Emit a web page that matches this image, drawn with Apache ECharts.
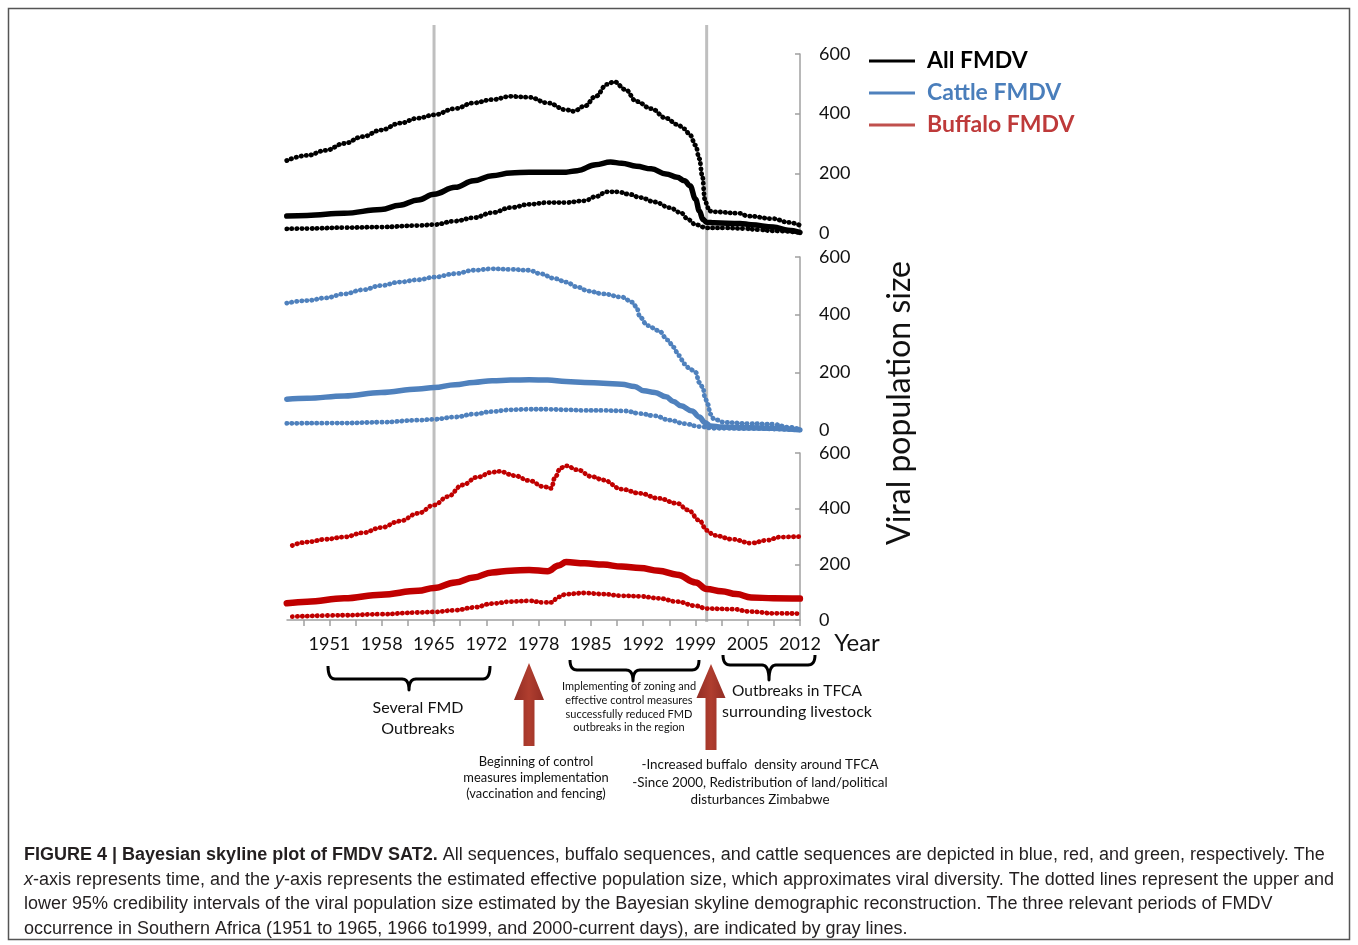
<!DOCTYPE html>
<html><head><meta charset="utf-8">
<script src="https://cdn.jsdelivr.net/npm/echarts@6/dist/echarts.min.js"></script>
<style>html,body{margin:0;padding:0;background:#fff}#c{width:1358px;height:945px}</style>
</head><body><div id="c"></div>
<script>
// ---------- DATA (year, viral population size) ----------
const allUpper = [[1945.47,243],[1948.11,260],[1950.51,277],[1952.91,300],[1955.30,323],[1957.70,345],[1960.10,368],[1962.50,385],[1964.56,396],[1967.29,417],[1969.69,436],[1972.09,447],[1974.49,458],[1976.89,455],[1979.28,436],[1981.68,413],[1982.64,408],[1984.08,425],[1985.52,458],[1986.96,498],[1987.92,507],[1989.36,481],[1990.80,441],[1992.71,417],[1994.63,385],[1996.07,364],[1997.03,349],[1997.75,328],[1998.47,294],[1998.95,249],[1999.33,192],[1999.67,113],[2000.00,90],[2000.15,74],[2000.87,71],[2004.22,66],[2005.18,57],[2008.54,48],[2010.46,36],[2011.99,26]];
const allMedian = [[1945.47,57],[1948.11,59],[1952.91,66],[1957.70,79],[1960.10,93],[1962.50,111],[1964.56,130],[1967.29,153],[1969.69,175],[1972.09,192],[1974.49,201],[1976.89,204],[1979.28,204],[1981.68,204],[1983.12,209],[1985.52,229],[1987.44,238],[1988.88,234],[1990.80,224],[1992.71,215],[1994.63,198],[1996.07,187],[1997.03,175],[1997.75,158],[1998.47,113],[1998.95,74],[1999.43,45],[1999.91,36],[2000.87,34],[2004.22,32],[2005.66,28],[2008.54,20],[2010.46,9],[2011.99,2]];
const allLower = [[1945.47,14],[1948.11,15],[1952.91,18],[1957.70,20],[1962.50,25],[1964.56,28],[1967.29,40],[1969.69,51],[1972.09,68],[1974.49,85],[1976.89,96],[1979.28,102],[1981.68,102],[1984.08,108],[1985.52,122],[1986.96,138],[1988.40,138],[1989.84,130],[1991.27,119],[1993.19,104],[1995.11,85],[1996.55,68],[1997.51,45],[1998.47,28],[1999.91,17],[2002.31,17],[2004.70,15],[2006.62,11],[2008.54,7],[2011.99,2]];

const cattleUpper = [[1945.47,440],[1948.11,449],[1950.51,458],[1952.91,472],[1955.30,486],[1957.70,501],[1960.10,513],[1962.50,521],[1964.56,530],[1967.29,542],[1969.69,554],[1972.09,559],[1974.49,557],[1976.89,554],[1978.32,542],[1980.24,525],[1981.68,513],[1983.12,496],[1984.56,482],[1986.48,472],[1988.88,461],[1990.32,443],[1990.80,426],[1991.27,391],[1992.23,362],[1993.67,345],[1994.87,312],[1995.59,287],[1996.31,258],[1997.03,229],[1997.75,211],[1998.47,200],[1998.95,165],[1999.43,147],[1999.67,113],[2000.05,89],[2000.39,55],[2000.87,37],[2002.31,26],[2005.66,22],[2008.54,20],[2010.46,10],[2011.99,2]];
const cattleMedian = [[1945.47,107],[1948.11,110],[1952.91,118],[1957.70,130],[1962.50,142],[1964.56,147],[1967.29,157],[1969.69,165],[1972.09,171],[1974.49,173],[1976.89,174],[1979.28,173],[1981.68,168],[1984.08,165],[1986.48,162],[1988.88,159],[1990.56,151],[1991.75,136],[1993.19,130],[1994.63,115],[1995.59,99],[1996.55,84],[1997.99,66],[1998.95,45],[1999.67,26],[2000.39,14],[2001.83,10],[2005.66,8],[2008.54,6],[2011.99,0]];
const cattleLower = [[1945.47,23],[1952.91,24],[1957.70,27],[1962.50,34],[1964.56,37],[1967.29,45],[1969.69,55],[1972.09,64],[1974.49,70],[1976.89,72],[1979.28,72],[1981.68,70],[1984.08,68],[1986.48,68],[1989.36,66],[1991.27,57],[1993.19,49],[1995.11,34],[1997.03,22],[1998.95,12],[2000.87,6],[2005.66,5],[2011.99,0]];

const buffaloUpper = [[1946.19,268],[1948.11,280],[1950.51,290],[1952.91,298],[1955.30,313],[1957.70,332],[1960.10,355],[1962.50,383],[1964.56,413],[1966.33,443],[1968.25,485],[1970.17,513],[1972.09,531],[1973.05,534],[1974.97,519],[1976.89,501],[1978.80,479],[1979.76,473],[1980.24,513],[1980.96,546],[1981.68,554],[1983.12,540],[1985.04,515],[1986.48,503],[1988.88,470],[1991.27,455],[1993.67,437],[1996.07,419],[1997.51,395],[1998.95,358],[1999.91,322],[2000.87,304],[2003.27,290],[2005.66,276],[2007.58,286],[2009.50,298],[2011.99,300]];
const buffaloMedian = [[1945.47,60],[1948.11,66],[1952.91,78],[1957.70,91],[1962.50,105],[1964.56,115],[1967.29,135],[1969.69,153],[1972.09,171],[1974.49,177],[1976.89,180],[1979.28,175],[1980.72,196],[1981.68,208],[1984.08,204],[1986.48,199],[1988.88,192],[1991.27,187],[1993.67,177],[1996.07,163],[1998.47,135],[1999.91,111],[2001.83,103],[2003.75,93],[2005.66,81],[2008.54,78],[2011.99,77]];
const buffaloLower = [[1946.19,12],[1952.91,17],[1957.70,21],[1962.50,27],[1964.56,29],[1967.29,35],[1969.69,45],[1972.09,59],[1974.49,66],[1976.89,69],[1978.80,63],[1979.76,63],[1980.72,83],[1981.68,93],[1984.08,97],[1986.48,93],[1988.88,87],[1991.27,85],[1993.67,78],[1996.07,66],[1998.47,51],[1999.91,41],[2003.27,39],[2005.66,30],[2008.54,24],[2011.99,23]];

const tickLabels = ['1951','1958','1965','1972','1978','1985','1992','1999','2005','2012'];
const firstLabelYear = 1951, lastLabelYear = 2012;
const periodBoundaries = [1964.56, 1999.9];
const legendNames = ['All FMDV','Cattle FMDV','Buffalo FMDV'];

// ---------- helpers ----------
const labelStep = (lastLabelYear - firstLabelYear) / (tickLabels.length - 1);
const labelYears = tickLabels.map((_, i) => firstLabelYear + i * labelStep);
const tickYears = [];
for (let i = -1; i < tickLabels.length * 2 - 1; i++) tickYears.push(firstLabelYear + i * labelStep / 2);

const FONT = 'Lato, "Open Sans", sans-serif';
const grids = [
  {left: 287, right: 558, top: 54, height: 179},
  {left: 287, right: 558, top: 257, height: 173},
  {left: 287, right: 558, top: 453, height: 167}
];
const xAxes = grids.map((g, i) => ({
  type: 'value', gridIndex: i, min: 1945.5, max: 2012,
  show: i === 2,
  axisLine: {show: true, lineStyle: {color: '#a0a0a0', width: 1.5}},
  axisTick: {show: true, customValues: tickYears, length: 6, lineStyle: {color: '#a0a0a0', width: 1.5}},
  axisLabel: {show: true, customValues: labelYears, margin: 15, color: '#111', fontSize: 18, fontFamily: FONT,
    formatter: v => tickLabels[Math.round((v - firstLabelYear) / labelStep)] || ''},
  splitLine: {show: false}
}));
const yAxes = grids.map((g, i) => ({
  type: 'value', gridIndex: i, min: 0, max: 600, interval: 200, position: 'right',
  axisLine: {show: true, lineStyle: {color: '#a0a0a0', width: 1.5}},
  axisTick: {show: true, inside: true, length: 5, lineStyle: {color: '#a0a0a0', width: 1.5}},
  axisLabel: {margin: 19, color: '#111', fontSize: 18, fontFamily: FONT},
  splitLine: {show: false}
}));

function dotted(name, data, color, idx) {
  return {name, type: 'line', xAxisIndex: idx, yAxisIndex: idx, data, showSymbol: false, symbol: 'none',
    smooth: 0.4, smoothMonotone: 'x', z: 3, silent: true,
    lineStyle: {color, width: 4.8, type: [0.3, 4.7], cap: 'round'}};
}
function solid(name, data, color, idx, w) {
  return {name, type: 'line', xAxisIndex: idx, yAxisIndex: idx, data, showSymbol: false, symbol: 'none',
    smooth: 0.4, smoothMonotone: 'x', z: 4, silent: true,
    lineStyle: {color, width: w, cap: 'round', join: 'round'}};
}
const BLACK = '#000000', BLUE = '#4f81bd', RED = '#c00000';
const series = [
  dotted('All upper', allUpper, BLACK, 0), solid(legendNames[0], allMedian, BLACK, 0, 5.5), dotted('All lower', allLower, BLACK, 0),
  dotted('Cattle upper', cattleUpper, BLUE, 1), solid(legendNames[1], cattleMedian, BLUE, 1, 5.5), dotted('Cattle lower', cattleLower, BLUE, 1),
  dotted('Buffalo upper', buffaloUpper, RED, 2), solid(legendNames[2], buffaloMedian, RED, 2, 6.5), dotted('Buffalo lower', buffaloLower, RED, 2)
];

// ---------- annotations ----------
function qpts(p0, c, p1, n) {
  const out = [];
  for (let k = 0; k <= n; k++) {
    const t = k / n;
    out.push([(1-t)*(1-t)*p0[0] + 2*(1-t)*t*c[0] + t*t*p1[0], (1-t)*(1-t)*p0[1] + 2*(1-t)*t*c[1] + t*t*p1[1]]);
  }
  return out;
}
function brace(x1, x2, xm, yTop, yMid, yBot) {
  const r = 7;
  const pts = [].concat(
    qpts([x1, yTop], [x1, yMid], [x1 + r, yMid], 8),
    qpts([xm - r, yMid], [xm, yMid], [xm, yBot], 8),
    qpts([xm, yBot], [xm, yMid], [xm + r, yMid], 8),
    qpts([x2 - r, yMid], [x2, yMid], [x2, yTop], 8)
  );
  return {type: 'polyline', shape: {points: pts}, style: {fill: null, stroke: '#000', lineWidth: 3, lineJoin: 'round'}};
}
function arrow(cx, yTip, yHead, yBot, hw, sw) {
  return {type: 'polygon', shape: {points: [[cx, yTip], [cx + hw, yHead], [cx + sw, yHead], [cx + sw, yBot], [cx - sw, yBot], [cx - sw, yHead], [cx - hw, yHead]]},
    style: {fill: new echarts.graphic.LinearGradient(0, 0, 1, 0, [{offset: 0, color: '#922d24'}, {offset: 0.5, color: '#b03e2f'}, {offset: 1, color: '#922d24'}])}};
}
function txt(text, x, y, size, opts) {
  return {type: 'text', x, y, style: Object.assign({text, fontSize: size, fontFamily: FONT, fill: '#111', align: 'center', verticalAlign: 'middle'}, opts || {})};
}
const CAPFONT = '"Liberation Sans", Arial, sans-serif';
const CAPSIZE = 18;
const capRich = {
  b: {fontWeight: 'bold', fontSize: CAPSIZE, fontFamily: CAPFONT, fill: '#231f20'},
  n: {fontSize: CAPSIZE, fontFamily: CAPFONT, fill: '#231f20'},
  i: {fontSize: CAPSIZE, fontFamily: CAPFONT, fill: '#231f20', fontStyle: 'italic'}
};
const captionLines = [
  '{b|FIGURE 4 | Bayesian skyline plot of FMDV SAT2.}{n| All sequences, buffalo sequences, and cattle sequences are depicted in blue, red, and green, respectively. The}',
  '{i|x}{n|-axis represents time, and the }{i|y}{n|-axis represents the estimated effective population size, which approximates viral diversity. The dotted lines represent the upper and}',
  '{n|lower 95% credibility intervals of the viral population size estimated by the Bayesian skyline demographic reconstruction. The three relevant periods of FMDV}',
  '{n|occurrence in Southern Africa (1951 to 1965, 1966 to1999, and 2000-current days), are indicated by gray lines.}'
];
const graphics = [
  {type: 'rect', shape: {x: 8.5, y: 8.5, width: 1341, height: 931}, style: {fill: null, stroke: '#555', lineWidth: 1.5}, z: -10},
  txt('Year', 857, 643, 24),
  Object.assign(txt('Viral population size', 900, 403, 32), {rotation: Math.PI / 2}),
  brace(328, 490, 409, 666, 679, 690),
  brace(570, 699, 633, 660, 670, 681),
  brace(723, 815, 769, 655, 665, 680),
  arrow(529, 663, 700, 746, 15, 5.5),
  arrow(711, 664, 698, 750, 14.5, 5.5),
  txt('Several FMD', 418, 708, 16), txt('Outbreaks', 418, 729, 16),
  txt('Implementing of zoning and', 629, 686, 11), txt('effective control measures', 629, 700, 11),
  txt('successfully reduced FMD', 629, 714, 11), txt('outbreaks in the region', 629, 727, 11),
  txt('Outbreaks in TFCA', 797, 691, 15.5), txt('surrounding livestock', 797, 712, 16),
  txt('Beginning of control', 536, 762, 12.9), txt('measures implementation', 536, 778, 12.9), txt('(vaccination and fencing)', 536, 794, 12.9),
  txt('-Increased buffalo  density around TFCA', 760, 765, 13.4), txt('-Since 2000, Redistribution of land/political', 760, 783, 13.4), txt('disturbances Zimbabwe', 760, 800, 13.4)
];
captionLines.forEach((t, i) => {
  graphics.push({type: 'text', x: 24, y: [855, 880, 904, 929][i], style: {text: t, rich: capRich, align: 'left', verticalAlign: 'middle'}});
});

const chart = echarts.init(document.getElementById('c'), null, {renderer: 'canvas'});
const option = {
  backgroundColor: '#ffffff',
  animation: false,
  grid: grids,
  xAxis: xAxes,
  yAxis: yAxes,
  legend: {
    orient: 'vertical', left: 864, top: 44, icon: 'rect', itemWidth: 46, itemHeight: 3, itemGap: 8, selectedMode: false,
    textStyle: {fontFamily: FONT, fontSize: 23, fontWeight: 'bold', lineHeight: 24, padding: [0, 0, 0, 7]},
    data: [
      {name: legendNames[0], itemStyle: {color: '#000'}, textStyle: {color: '#000'}},
      {name: legendNames[1], itemStyle: {color: '#4f81bd'}, textStyle: {color: '#4a7ebb'}},
      {name: legendNames[2], itemStyle: {color: '#c0504d'}, textStyle: {color: '#be3a3a'}}
    ]
  },
  series,
  graphic: graphics
};
chart.setOption(option);
// gray period boundaries, positioned through the x scale
periodBoundaries.forEach(yr => {
  const px = chart.convertToPixel({xAxisIndex: 2}, yr);
  graphics.push({type: 'line', shape: {x1: px, y1: 25, x2: px, y2: 622}, style: {stroke: '#bfbfbf', lineWidth: 3}, z: -5});
});
chart.setOption({graphic: graphics});
</script></body></html>
